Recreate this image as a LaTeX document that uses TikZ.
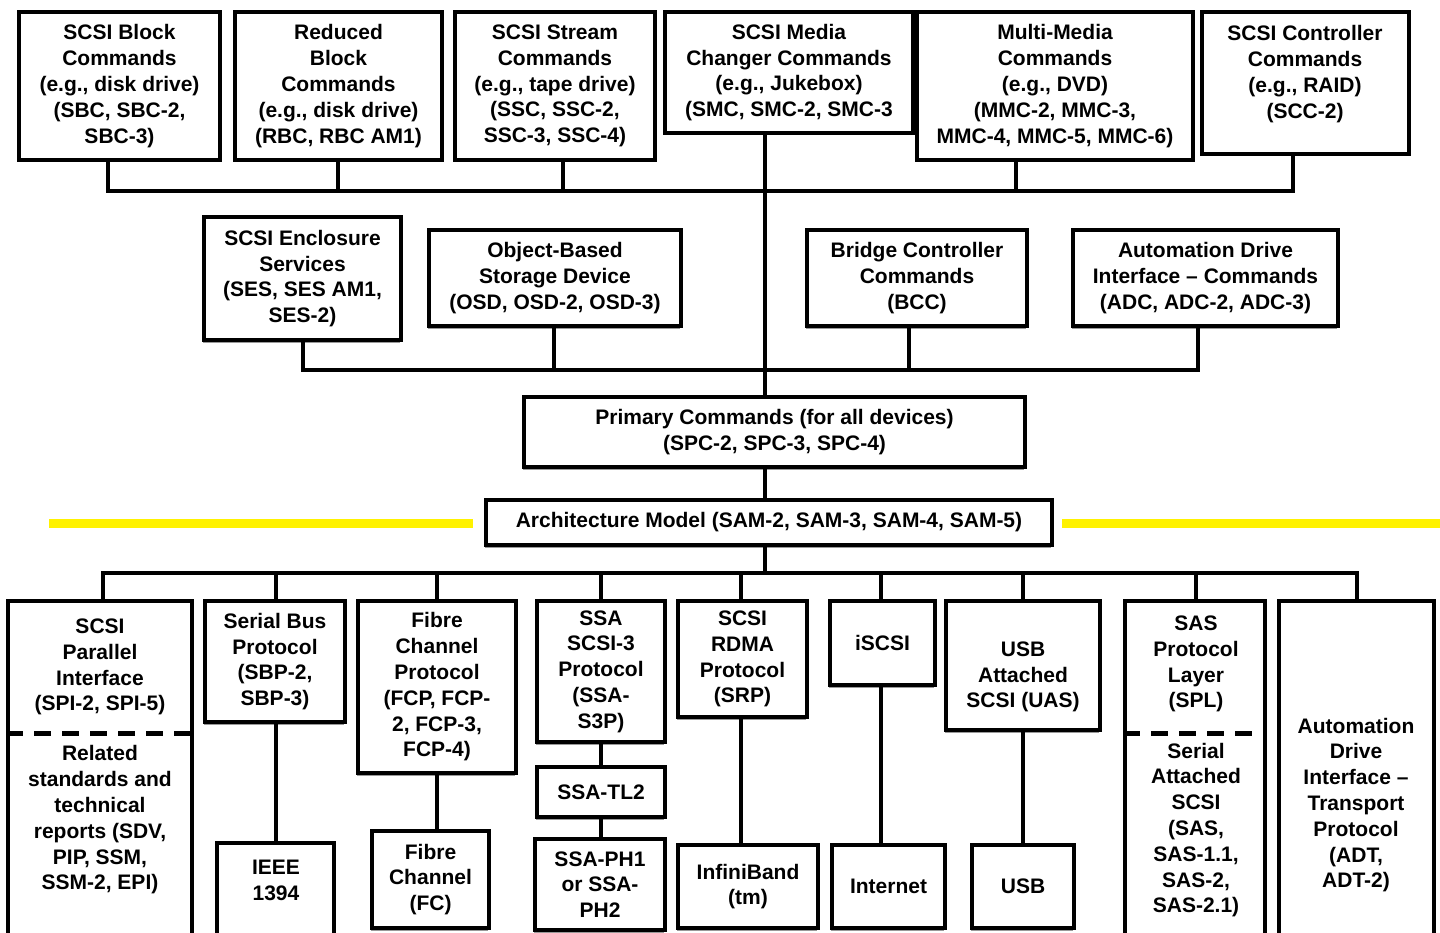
\documentclass[tikz,border=0pt]{standalone}
\usepackage{fontspec}
\setmainfont{Liberation Sans}
\usetikzlibrary{shadows}
\tikzset{
  lbl/.style={align=center, inner sep=0pt, font=\fontsize{21}{25.8}\selectfont\bfseries},
  box/.style={lbl, draw=black, line width=3.6pt, fill=white,
    drop shadow={shadow xshift=-1.5pt, shadow yshift=-2.5pt, fill=black!40, opacity=1}},
  wire/.style={line width=3.4pt, line cap=rect},
  sep/.style={line width=5pt, dash pattern=on 17pt off 11pt},
  hl/.style={draw=yellow, line width=9pt},
}
\newcommand\bx[7][]{\node[box,#1,minimum width={(#5-#3)*1pt},minimum height={(#6-#4)*1pt}] (#2) at ({(#3+#5)/2},{(#4+#6)/2}) {#7};}
\begin{document}
\begin{tikzpicture}[x=1pt,y=-1pt]
\useasboundingbox (0,0) rectangle (1440,933);
\fill[white] (0,0) rectangle (1440,933);
\clip (0,0) rectangle (1440,933);

% top row
\bx{b1}{19}{12}{220}{160}{SCSI Block\\Commands\\(e.g., disk drive)\\(SBC, SBC-2,\\SBC-3)}
\bx{b2}{235}{12}{442}{160}{Reduced\\Block\\Commands\\(e.g., disk drive)\\(RBC, RBC AM1)}
\bx{b3}{455}{12}{655}{160}{SCSI Stream\\Commands\\(e.g., tape drive)\\(SSC, SSC-2,\\SSC-3, SSC-4)}
\bx{b4}{665}{12}{913}{133}{SCSI Media\\Changer Commands\\(e.g., Jukebox)\\(SMC, SMC-2, SMC-3}
\bx{b5}{917}{12}{1193}{160}{Multi-Media\\Commands\\(e.g., DVD)\\(MMC-2, MMC-3,\\MMC-4, MMC-5, MMC-6)}
\bx{b6}{1202}{12}{1409}{154}{}
\node[lbl] (b6T) at (1305,74) {SCSI Controller\\Commands\\(e.g., RAID)\\(SCC-2)};

% second row
\bx{b7}{204}{217}{401}{340}{SCSI Enclosure\\Services\\(SES, SES AM1,\\SES-2)}
\bx{b8}{429}{230}{681}{326}{Object-Based\\Storage Device\\(OSD, OSD-2, OSD-3)}
\bx{b9}{807}{230}{1027}{326}{Bridge Controller\\Commands\\(BCC)}
\bx{b10}{1073}{230}{1338}{326}{Automation Drive\\Interface -- Commands\\(ADC, ADC-2, ADC-3)}

% center
\bx{pc}{524}{397}{1025}{467}{Primary Commands (for all devices)\\(SPC-2, SPC-3, SPC-4)}
\bx{am}{486}{500}{1052}{545}{Architecture Model (SAM-2, SAM-3, SAM-4, SAM-5)}

% yellow marks
\coordinate (y1) at (49,523); \coordinate (y2) at (473,523);
\coordinate (y3) at (1062,523); \coordinate (y4) at (1440,523);
\draw[hl] (y1) -- (y2);
\draw[hl] (y3) -- (y4);

% bottom row
\bx{pa}{8}{601}{192}{970}{}
\node[lbl] (paT) at (100,667) {SCSI\\Parallel\\Interface\\(SPI-2, SPI-5)};
\node[lbl] (paB) at (100,820) {Related\\standards and\\technical\\reports (SDV,\\PIP, SSM,\\SSM-2, EPI)};
\bx{sb}{205}{601}{345}{722}{Serial Bus\\Protocol\\(SBP-2,\\SBP-3)}
\bx{ie}{217}{843}{334}{970}{}
\node[lbl] (ieT) at (276,880) {IEEE\\1394};
\bx{fcp}{358}{601}{516}{773}{Fibre\\Channel\\Protocol\\(FCP, FCP-\\2, FCP-3,\\FCP-4)}
\bx{fc}{372}{831}{489}{928}{Fibre\\Channel\\(FC)}
\bx{ssa}{537}{601}{665}{742}{SSA\\SCSI-3\\Protocol\\(SSA-\\S3P)}
\bx{tl}{537}{767}{665}{817}{SSA-TL2}
\bx{ph}{535}{839}{665}{930}{SSA-PH1\\or SSA-\\PH2}
\bx{srp}{678}{601}{807}{717}{SCSI\\RDMA\\Protocol\\(SRP)}
\bx{ib}{678}{845}{818}{928}{InfiniBand\\(tm)}
\bx{is}{830}{601}{935}{685}{iSCSI}
\bx{inet}{832}{845}{945}{928}{Internet}
\bx{uas}{946}{601}{1100}{730}{}
\node[lbl] (uasT) at (1023,677) {USB\\Attached\\SCSI (UAS)};
\bx{usb}{972}{845}{1074}{928}{USB}
\bx{sas}{1125}{601}{1265}{970}{}
\node[lbl] (sasT) at (1196,664) {SAS\\Protocol\\Layer\\(SPL)};
\node[lbl] (sasB) at (1196,830) {Serial\\Attached\\SCSI\\(SAS,\\SAS-1.1,\\SAS-2,\\SAS-2.1)};
\bx{adt}{1279}{601}{1434}{970}{}
\node[lbl] (adtT) at (1356,805) {Automation\\Drive\\Interface --\\Transport\\Protocol\\(ADT,\\ADT-2)};

% dashed separators
\coordinate (sy) at (0,733);
\draw[sep] (pa.west |- sy) -- (pa.east |- sy);
\draw[sep] (sas.west |- sy) -- (sas.east |- sy);

% top bus
\coordinate (u1) at (108,191); \coordinate (u2) at (338,191); \coordinate (u3) at (563,191);
\coordinate (u5) at (1016,191); \coordinate (u6) at (1293,191);
\draw[wire] (u1) -- (u6);
\draw[wire] (b1.south -| u1) -- (u1);
\draw[wire] (b2.south -| u2) -- (u2);
\draw[wire] (b3.south -| u3) -- (u3);
\draw[wire] (b5.south -| u5) -- (u5);
\draw[wire] (b6.south -| u6) -- (u6);

% trunk
\coordinate (tk) at (765,0);
\draw[wire] (b4.south -| tk) -- (pc.north -| tk);
\draw[wire] (pc.south -| tk) -- (am.north -| tk);

% second bus
\coordinate (v1) at (303,370); \coordinate (v2) at (554,370);
\coordinate (v3) at (909,370); \coordinate (v4) at (1198,370);
\draw[wire] (v1) -- (v4);
\draw[wire] (b7.south -| v1) -- (v1);
\draw[wire] (b8.south -| v2) -- (v2);
\draw[wire] (b9.south -| v3) -- (v3);
\draw[wire] (b10.south -| v4) -- (v4);

% bottom bus
\coordinate (tb) at (765,573);
\coordinate (w1) at (103,573); \coordinate (w2) at (276,573); \coordinate (w3) at (437,573);
\coordinate (w4) at (601,573); \coordinate (w5) at (741,573); \coordinate (w6) at (881,573);
\coordinate (w7) at (1023,573); \coordinate (w8) at (1196,573); \coordinate (w9) at (1357,573);
\draw[wire] (am.south -| tk) -- (tb);
\draw[wire] (w1) -- (w9);
\draw[wire] (w1) -- (pa.north -| w1);
\draw[wire] (w2) -- (sb.north -| w2);
\draw[wire] (w3) -- (fcp.north -| w3);
\draw[wire] (w4) -- (ssa.north -| w4);
\draw[wire] (w5) -- (srp.north -| w5);
\draw[wire] (w6) -- (is.north -| w6);
\draw[wire] (w7) -- (uas.north -| w7);
\draw[wire] (w8) -- (sas.north -| w8);
\draw[wire] (w9) -- (adt.north -| w9);

% lower connectors
\draw[wire] (sb.south -| w2) -- (ie.north -| w2);
\draw[wire] (fcp.south -| w3) -- (fc.north -| w3);
\draw[wire] (ssa.south -| w4) -- (tl.north -| w4);
\draw[wire] (tl.south -| w4) -- (ph.north -| w4);
\draw[wire] (srp.south -| w5) -- (ib.north -| w5);
\draw[wire] (is.south -| w6) -- (inet.north -| w6);
\draw[wire] (uas.south -| w7) -- (usb.north -| w7);
\end{tikzpicture}
\end{document}
